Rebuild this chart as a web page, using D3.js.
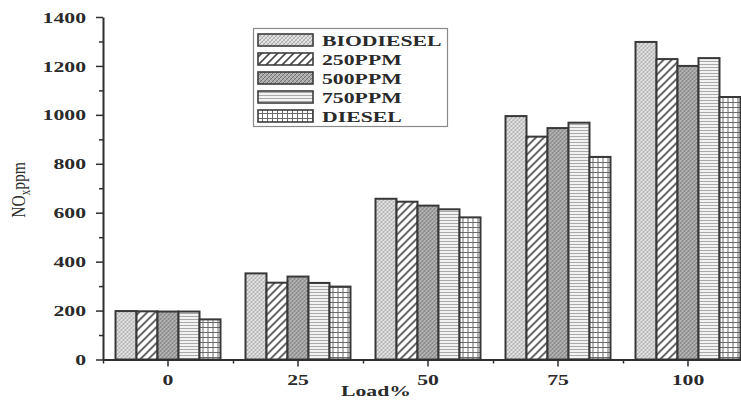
<!DOCTYPE html>
<html>
<head>
<meta charset="utf-8">
<script src="https://cdn.jsdelivr.net/npm/d3@7"></script>
<style>
  html, body { margin: 0; padding: 0; background: #fff; }
  svg { display: block; }
  text { font-family: "Liberation Serif", "Times New Roman", serif; fill: #2a2a2a; }
</style>
</head>
<body>
<svg id="chart" width="741" height="401"></svg>
<script>
// ---- data ----
const loads = ["0", "25", "50", "75", "100"];
const seriesNames = ["BIODIESEL", "250PPM", "500PPM", "750PPM", "DIESEL"];
const biodiesel = [198, 352, 657, 995, 1298];
const ppm250   = [197, 314, 645, 911, 1228];
const ppm500   = [196, 339, 629, 946, 1200];
const ppm750   = [196, 313, 614, 968, 1232];
const diesel   = [164, 298, 581, 828, 1073];
const yTicks = [0, 200, 400, 600, 800, 1000, 1200, 1400];
const xTitle = "Load%";

const seriesValues = [biodiesel, ppm250, ppm500, ppm750, diesel];
const rows = loads.map((l, i) => ({ load: l, vals: seriesNames.map((s, j) => ({ key: s, idx: j, v: seriesValues[j][i] })) }));

const SX = 1.45; // horizontal stretch of the original raster

const svg = d3.select("#chart");
const defs = svg.append("defs");

// ---- patterns ----
function pat(id, w, h, bg, draw) {
  const p = defs.append("pattern").attr("id", id).attr("patternUnits", "userSpaceOnUse")
    .attr("width", w).attr("height", h);
  p.append("rect").attr("width", w).attr("height", h).attr("fill", bg);
  draw(p);
}
pat("p0", 4, 4, "#e2e2e2", p => {
  p.append("path").attr("d", "M0,4 L4,0 M-1,1 L1,-1 M3,5 L5,3").attr("stroke", "#9a9a9a").attr("stroke-width", 0.8);
  p.append("path").attr("d", "M0,0 L4,4 M-1,3 L1,5 M3,-1 L5,1").attr("stroke", "#b5b5b5").attr("stroke-width", 0.6);
});
pat("p1", 8, 8, "#ffffff", p => {
  p.append("path").attr("d", "M0,8 L8,0 M-2,2 L2,-2 M6,10 L10,6").attr("stroke", "#4a4a4a").attr("stroke-width", 1.6);
});
pat("p2", 4, 4, "#a8a8a8", p => {
  p.append("path").attr("d", "M0,4 L4,0 M-1,1 L1,-1 M3,5 L5,3").attr("stroke", "#6e6e6e").attr("stroke-width", 0.9);
  p.append("path").attr("d", "M0,0 L4,4 M-1,3 L1,5 M3,-1 L5,1").attr("stroke", "#c8c8c8").attr("stroke-width", 0.7);
});
pat("p3", 4, 3, "#f2f2f2", p => {
  p.append("path").attr("d", "M0,1.5 L4,1.5").attr("stroke", "#a9a9a9").attr("stroke-width", 1);
});
pat("p4", 5, 5, "#ffffff", p => {
  p.append("path").attr("d", "M2.5,0 L2.5,5 M0,2.5 L5,2.5").attr("stroke", "#6a6a6a").attr("stroke-width", 1);
});
const fills = ["url(#p0)", "url(#p1)", "url(#p2)", "url(#p3)", "url(#p4)"];

// ---- scales ----
const x0 = d3.scaleBand().domain(loads).range([103, 753]).paddingInner(0.1923).paddingOuter(0.0962);
const x1 = d3.scaleBand().domain(seriesNames).range([0, x0.bandwidth()]);
const y = d3.scaleLinear().domain([0, 1400]).range([359.5, 17]);

// ---- bars ----
const g = svg.append("g");
g.selectAll("g.grp").data(rows).join("g").attr("class", "grp")
  .attr("transform", d => `translate(${x0(d.load)},0)`)
  .selectAll("rect").data(d => d.vals).join("rect")
  .attr("x", d => x1(d.key))
  .attr("y", d => y(d.v))
  .attr("width", x1.bandwidth())
  .attr("height", d => y(0) - y(d.v))
  .attr("fill", d => fills[d.idx])
  .attr("stroke", "#383838").attr("stroke-width", 2);

// ---- axes ----
const axisColor = "#2e2e2e";
// y minor ticks
const yMinor = svg.append("g").attr("transform", "translate(103,0)")
  .call(d3.axisLeft(y).tickValues(d3.range(100, 1400, 200)).tickSize(4).tickFormat(""));
yMinor.select(".domain").remove();
yMinor.selectAll("line").attr("stroke", axisColor).attr("stroke-width", 1.5);

const yAxis = svg.append("g").attr("transform", "translate(103,0)")
  .call(d3.axisLeft(y).tickValues(yTicks).tickFormat(d3.format("d")).tickSize(7).tickSizeOuter(0).tickPadding(0));
yAxis.select(".domain").attr("stroke", axisColor).attr("stroke-width", 2);
yAxis.selectAll("line").attr("stroke", axisColor).attr("stroke-width", 1.5);
yAxis.selectAll("text")
  .attr("x", -17 / SX).attr("dy", "0.34em")
  .attr("transform", `scale(${SX},1)`)
  .style("font-size", "15px").style("font-weight", "bold").style("fill", "#2a2a2a");

// x minor ticks (between groups)
const xm = d3.scaleLinear().domain([0, 5]).range([103, 753]);
const xMinor = svg.append("g").attr("transform", "translate(0,359.5)")
  .call(d3.axisBottom(xm).tickValues([0, 1, 2, 3, 4]).tickSize(4).tickFormat(""));
xMinor.select(".domain").remove();
xMinor.selectAll("line").attr("stroke", axisColor).attr("stroke-width", 1.5);

const xAxis = svg.append("g").attr("transform", "translate(0,359.5)")
  .call(d3.axisBottom(x0).tickSize(7).tickSizeOuter(0).tickPadding(0));
xAxis.select(".domain").attr("stroke", axisColor).attr("stroke-width", 2);
xAxis.selectAll("line").attr("stroke", axisColor).attr("stroke-width", 1.5);
xAxis.selectAll("text")
  .attr("y", 0).attr("dy", 0)
  .attr("transform", d => `translate(0,25) scale(${SX},1)`)
  .style("font-size", "15px").style("font-weight", "bold").style("fill", "#2a2a2a");

// axis titles
svg.append("text")
  .attr("transform", `translate(376,396) scale(${SX},1)`)
  .attr("text-anchor", "middle")
  .style("font-size", "15px").style("font-weight", "bold")
  .text(xTitle);

const yt = svg.append("text")
  .attr("transform", `translate(25,190) scale(1.25,1) rotate(-90)`)
  .attr("text-anchor", "middle")
  .style("font-size", "15.5px");
yt.append("tspan").text("NO");
yt.append("tspan").attr("dy", 4).style("font-size", "11px").text("x");
yt.append("tspan").attr("dy", -4).text("ppm");

// ---- legend ----
const leg = svg.append("g");
leg.append("rect").attr("x", 253.5).attr("y", 28.5).attr("width", 194).attr("height", 98)
  .attr("fill", "#fff").attr("stroke", "#8a8a8a").attr("stroke-width", 1.2);
const li = leg.selectAll("g.li").data(seriesNames).join("g").attr("class", "li")
  .attr("transform", (d, i) => `translate(0,${40 + i * 19})`);
li.append("rect").attr("x", 258).attr("y", -6).attr("width", 55).attr("height", 12)
  .attr("fill", (d, i) => fills[i]).attr("stroke", "#3c3c3c").attr("stroke-width", 1.6);
li.append("text")
  .attr("transform", `translate(322,5.5) scale(${SX},1)`)
  .style("font-size", "15px").style("font-weight", "bold")
  .text(d => d);
</script>
</body>
</html>
